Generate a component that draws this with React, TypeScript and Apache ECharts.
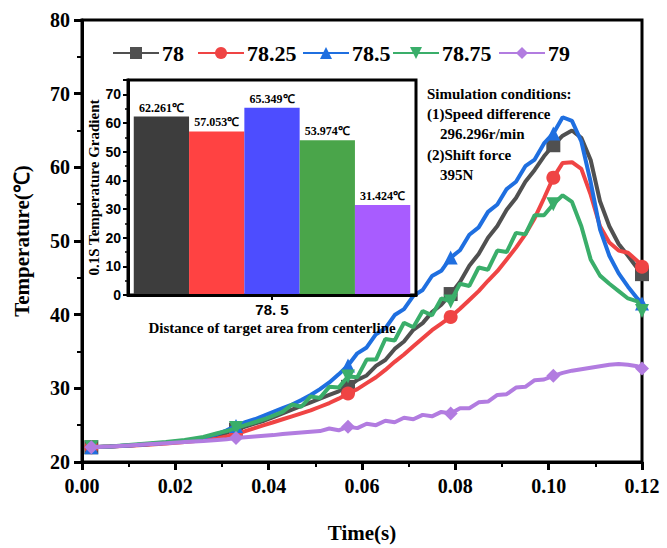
import React, { useEffect, useRef } from "react";
import * as echarts from "echarts";

// time (s)
const T = [
  0.002, 0.006, 0.01, 0.014, 0.018, 0.022, 0.026, 0.029, 0.031, 0.033,
  0.035, 0.037, 0.039, 0.041, 0.043, 0.045, 0.047, 0.049, 0.051, 0.053,
  0.055, 0.057, 0.059, 0.061, 0.063, 0.065, 0.067, 0.069, 0.071, 0.073,
  0.075, 0.077, 0.079, 0.081, 0.083, 0.085, 0.087, 0.089, 0.091, 0.093,
  0.095, 0.097, 0.099, 0.101, 0.103, 0.105, 0.107, 0.109, 0.111, 0.113,
  0.115, 0.117, 0.119, 0.12,
];

const S78 = [
  22.0, 22.1, 22.25, 22.4, 22.6, 22.85, 23.2, 23.6, 23.95, 24.4,
  24.8, 25.2, 25.6, 26.1, 26.6, 27.1, 27.6, 28.1, 28.6, 29.1,
  29.6, 30.2, 31.15, 31.75, 33.05, 33.85, 35.35, 36.35, 37.95, 38.85,
  40.35, 41.35, 42.8, 44.45, 46.65, 48.25, 50.45, 52.05, 54.25, 55.85,
  58.05, 59.65, 61.5, 63.0, 64.3, 65.0, 64.0, 61.0, 55.4, 52.0,
  49.6, 48.0, 46.3, 45.5,
];

const S7825 = [
  22.0, 22.1, 22.2, 22.35, 22.5, 22.7, 22.95, 23.2, 23.45, 23.8,
  24.2, 24.6, 25.0, 25.4, 25.8, 26.2, 26.6, 27.0, 27.5, 28.0,
  28.6, 29.3, 29.9, 30.7, 31.5, 32.5, 33.6, 34.6, 35.7, 36.8,
  37.9, 38.8, 39.7, 40.8, 42.0, 43.2, 44.6, 45.9, 47.5, 49.1,
  50.9, 53.1, 55.8, 58.6, 60.6, 60.7, 59.8, 56.3, 52.0, 49.8,
  48.7, 48.4, 47.3, 46.5,
];

const S785 = [
  22.0, 22.1, 22.25, 22.4, 22.6, 22.9, 23.3, 23.8, 24.3, 24.9,
  25.4, 25.8, 26.3, 26.8, 27.3, 27.8, 28.4, 29.1, 29.9, 30.8,
  31.9, 33.1, 34.75, 35.55, 37.35, 38.15, 39.95, 40.75, 42.55, 43.35,
  45.25, 45.95, 47.75, 48.75, 50.85, 51.85, 53.95, 54.95, 57.05, 58.05,
  60.15, 61.05, 63.25, 64.6, 66.8, 66.3, 63.5, 58.0, 51.6, 48.0,
  45.6, 43.8, 42.2, 41.5,
];

const S7875 = [
  22.0, 22.1, 22.3, 22.5, 22.7, 23.0, 23.4, 23.9, 24.2, 24.6,
  25.0, 25.4, 25.8, 26.3, 26.8, 27.8, 27.5, 28.9, 28.7, 30.2,
  30.1, 31.6, 31.5, 33.9, 33.9, 36.7, 36.5, 38.9, 38.3, 40.5,
  39.9, 42.2, 41.8, 44.2, 43.9, 46.4, 46.1, 48.7, 48.5, 51.1,
  50.9, 53.5, 53.5, 55.0, 56.2, 55.3, 52.0, 47.5, 45.3, 44.2,
  43.2, 42.2, 41.8, 40.5,
];

const S79 = [
  22.0, 22.1, 22.25, 22.4, 22.55, 22.7, 22.85, 23.0, 23.1, 23.25,
  23.35, 23.45, 23.55, 23.65, 23.8, 23.9, 24.0, 24.1, 24.2, 24.55,
  24.3, 24.8, 24.6, 25.2, 25.0, 25.6, 25.4, 26.0, 25.8, 26.4,
  26.2, 26.8, 26.6, 27.3, 27.3, 28.1, 28.2, 29.1, 29.2, 30.1,
  30.2, 31.1, 31.2, 31.7, 32.1, 32.4, 32.6, 32.8, 33.0, 33.2,
  33.3, 33.2, 33.0, 32.7,
];

const seriesNames = ["78", "78.25", "78.5", "78.75", "79"];
const seriesValues = [S78, S7825, S785, S7875, S79];
const seriesColors = ["#505050", "#ef4444", "#1f6fe0", "#3aae6a", "#b27ce0"];
const seriesSymbols = ["rect", "circle", "triangle", "triangle", "diamond"];
const seriesRotate = [0, 0, 0, 180, 0];
const markerIdx = [0, 9, 21, 32, 43, 53];
const legendLeft = [107, 192, 297, 387, 493];

const barCategory = ["78. 5"];
const barValues = [62.261, 57.053, 65.349, 53.974, 31.424];
const barColors = ["#3d3d3d", "#ff4242", "#4d4dff", "#4aa54a", "#a85cff"];

const noteLines = [
  { text: "Simulation conditions:", x: 427, y: 95 },
  { text: "(1)Speed difference", x: 427, y: 115 },
  { text: "296.296r/min", x: 440, y: 135 },
  { text: "(2)Shift force", x: 427, y: 156 },
  { text: "395N", x: 440, y: 176 },
];

const SERIF = "'Liberation Serif', 'Times New Roman', serif";
const SANS = "'Liberation Sans', Arial, sans-serif";

export default function App() {
  const ref = useRef<HTMLDivElement>(null);

  useEffect(() => {
    document.body.style.margin = "0";
    if (!ref.current) return;
    const chart = echarts.init(ref.current, null, { renderer: "svg" });

    const lineSeries = seriesNames.map((name, k) => ({
      type: "line",
      name,
      xAxisIndex: 0,
      yAxisIndex: 0,
      data: T.map((t, i) => [t, seriesValues[k][i]]),
      showSymbol: true,
      showAllSymbol: true,
      symbol: seriesSymbols[k],
      symbolRotate: seriesRotate[k],
      symbolSize: (_v: any, p: any) => (markerIdx.includes(p.dataIndex) ? 14 : 0),
      lineStyle: { width: 4, color: seriesColors[k] },
      itemStyle: { color: seriesColors[k] },
      smooth: false,
      clip: true,
      z: 3 + k,
    }));

    const barSeries = barValues.map((v, k) => ({
      type: "bar",
      name: "bar" + k,
      xAxisIndex: 1,
      yAxisIndex: 1,
      data: [v],
      barGap: "0%",
      barCategoryGap: "4%",
      itemStyle: { color: barColors[k] },
      label: {
        show: true,
        position: "top",
        distance: 3,
        formatter: (p: any) => p.value.toFixed(3) + "℃",
        fontFamily: SERIF,
        fontWeight: "bold",
        fontSize: 12,
        color: "#000",
      },
      z: 10,
    }));

    const axisLabelMain = {
      fontFamily: SERIF,
      fontWeight: "bold",
      fontSize: 20,
      color: "#000",
    };

    chart.setOption({
      animation: false,
      backgroundColor: "#fff",
      legend: seriesNames.map((name, k) => ({
        data: [name],
        left: legendLeft[k],
        top: 37,
        itemWidth: 46,
        itemHeight: 15,
        itemGap: 0,
        textStyle: {
          fontFamily: SERIF,
          fontWeight: "bold",
          fontSize: 22,
          color: "#000",
          padding: [0, 0, 0, -2],
        },
      })),
      grid: [
        {
          left: 82,
          top: 20,
          width: 560,
          height: 447,
          show: true,
          borderColor: "#000",
          borderWidth: 3,
          backgroundColor: "transparent",
        },
        {
          left: 128,
          top: 80,
          width: 288,
          height: 215,
          show: true,
          borderColor: "#000",
          borderWidth: 3,
          backgroundColor: "#fff",
          z: 8,
        },
      ],
      xAxis: [
        {
          type: "value",
          gridIndex: 0,
          min: 0,
          max: 0.12,
          interval: 0.02,
          name: "Time(s)",
          nameLocation: "middle",
          nameGap: 60,
          nameTextStyle: { ...axisLabelMain, fontSize: 21 },
          axisLine: { show: true, onZero: false, lineStyle: { color: "#000", width: 3 } },
          axisTick: { show: true, inside: false, length: 8, lineStyle: { color: "#000", width: 3 } },
          minorTick: { show: true, splitNumber: 2, length: 5, lineStyle: { color: "#000", width: 2 } },
          splitLine: { show: false },
          axisLabel: {
            ...axisLabelMain,
            margin: 14,
            showMinLabel: true,
            showMaxLabel: true,
            formatter: (v: number) => v.toFixed(2),
          },
        },
        {
          type: "category",
          gridIndex: 1,
          data: barCategory,
          name: "Distance of target area from centerline",
          nameLocation: "middle",
          nameGap: 25,
          nameTextStyle: { fontFamily: SERIF, fontWeight: "bold", fontSize: 15, color: "#000" },
          axisLine: { show: true, lineStyle: { color: "#000", width: 3 } },
          axisTick: { show: true, alignWithLabel: true, length: 5, lineStyle: { color: "#000", width: 2 } },
          axisLabel: { fontFamily: SANS, fontWeight: "bold", fontSize: 15, color: "#000", margin: 7 },
          z: 12,
        },
      ],
      yAxis: [
        {
          type: "value",
          gridIndex: 0,
          min: 20,
          max: 80,
          interval: 10,
          name: "Temperature(℃)",
          nameLocation: "middle",
          nameGap: 50,
          nameTextStyle: { ...axisLabelMain, fontSize: 21 },
          axisLine: { show: true, onZero: false, lineStyle: { color: "#000", width: 3 } },
          axisTick: { show: true, inside: false, length: 8, lineStyle: { color: "#000", width: 3 } },
          minorTick: { show: true, splitNumber: 2, length: 5, lineStyle: { color: "#000", width: 2 } },
          splitLine: { show: false },
          axisLabel: { ...axisLabelMain, margin: 12 },
        },
        {
          type: "value",
          gridIndex: 1,
          min: 0,
          max: 75,
          interval: 10,
          name: "0.1S Temperature Gradient",
          nameLocation: "middle",
          nameGap: 27,
          nameTextStyle: { fontFamily: SERIF, fontWeight: "bold", fontSize: 15, color: "#000" },
          axisLine: { show: true, lineStyle: { color: "#000", width: 3 } },
          axisTick: { show: true, inside: false, length: 5, lineStyle: { color: "#000", width: 2 } },
          minorTick: { show: true, splitNumber: 2, length: 3, lineStyle: { color: "#000", width: 1.5 } },
          splitLine: { show: false },
          axisLabel: {
            fontFamily: SANS,
            fontWeight: "bold",
            fontSize: 14,
            color: "#000",
            margin: 7,
            showMaxLabel: false,
          },
          z: 12,
        },
      ],
      graphic: noteLines.map((n) => ({
        type: "text",
        left: n.x,
        top: n.y - 9,
        z: 20,
        style: {
          text: n.text,
          fontFamily: SERIF,
          fontWeight: "bold",
          fontSize: 15,
          fill: "#000",
        },
      })),
      series: [...lineSeries, ...barSeries],
    });

    return () => chart.dispose();
  }, []);

  return <div ref={ref} style={{ width: 667, height: 548 }} />;
}
